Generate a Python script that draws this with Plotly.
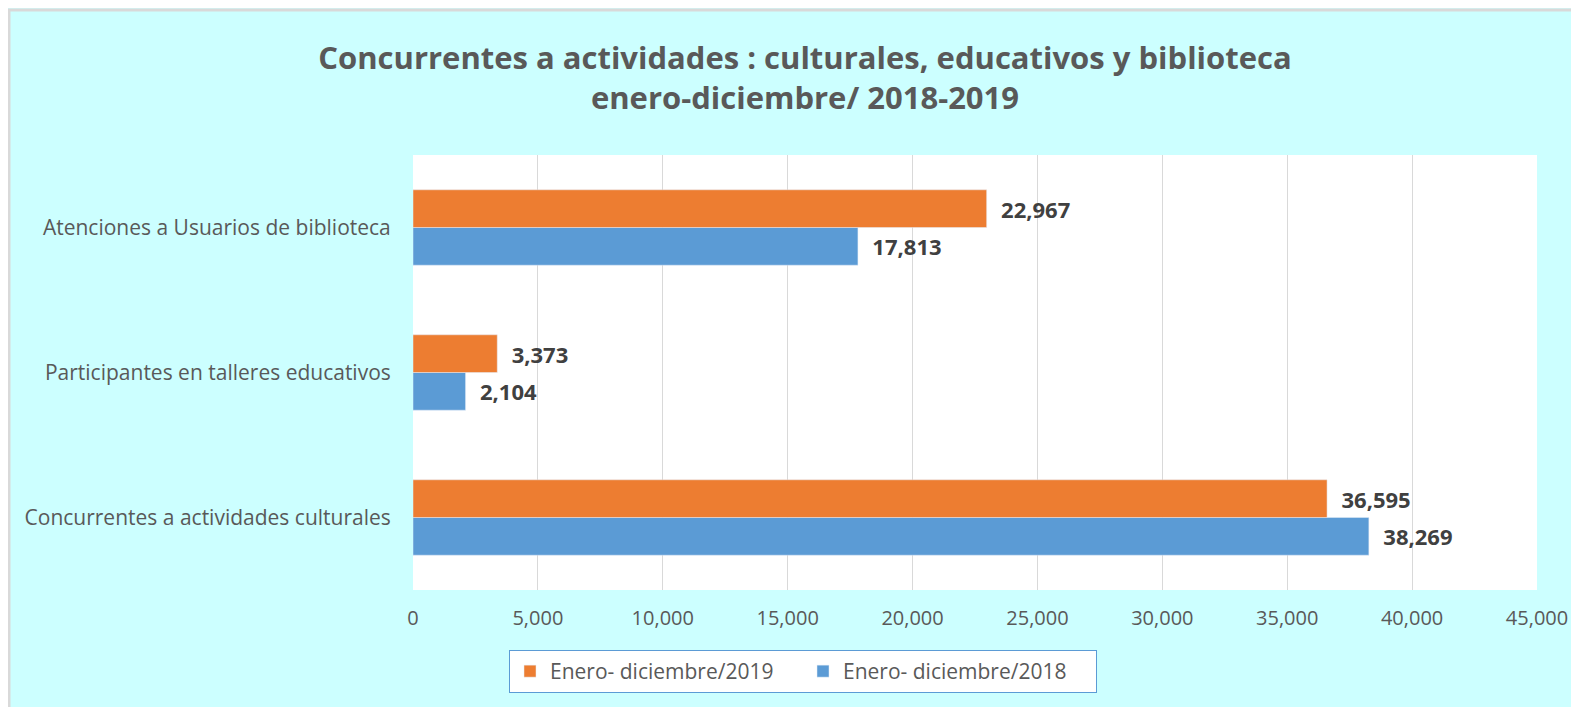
import plotly.graph_objects as go

categories = ["Concurrentes a actividades culturales",
              "Participantes en talleres educativos",
              "Atenciones a Usuarios de biblioteca"]
values_2018 = [38269, 2104, 17813]
values_2019 = [36595, 3373, 22967]
name_2018 = "Enero- diciembre/2018"
name_2019 = "Enero- diciembre/2019"
tick_vals = [0, 5000, 10000, 15000, 20000, 25000, 30000, 35000, 40000, 45000]

# the page body adds an 8px offset; figure coordinates = page coordinates - 8
OFF = 8
W, H = 1579 - OFF, 707 - OFF
ml = 413 - OFF
mt = 155 - OFF
mr = W - (1537 - OFF)
mb = H - (590 - OFF)
pw, ph = W - ml - mr, H - mt - mb

def px_x(p):  # page px -> paper
    return (p - OFF - ml) / pw

def px_y(p):
    return (H - mb - (p - OFF)) / ph

FONT = "Open Sans, Noto Sans, sans-serif"

fig = go.Figure()
label_font = dict(family=FONT, size=22, color="#404040", weight="bold")
fig.add_trace(go.Bar(
    y=categories, x=values_2018, orientation="h", name=name_2018,
    marker=dict(color="#5B9BD5"),
    text=["\u00a0\u00a0" + f"{v:,}" for v in values_2018],
    textposition="outside", textfont=label_font, cliponaxis=False,
))
fig.add_trace(go.Bar(
    y=categories, x=values_2019, orientation="h", name=name_2019,
    marker=dict(color="#ED7D31"),
    text=["\u00a0\u00a0" + f"{v:,}" for v in values_2019],
    textposition="outside", textfont=label_font, cliponaxis=False,
))

shapes = [
    dict(type="line", xref="paper", yref="paper", x0=px_x(8), x1=px_x(1600),
         y0=px_y(10), y1=px_y(10), line=dict(color="#D9D9D9", width=3), layer="below"),
    dict(type="line", xref="paper", yref="paper", x0=px_x(9), x1=px_x(9),
         y0=px_y(10), y1=px_y(720), line=dict(color="#D9D9D9", width=3), layer="below"),
]

fig.update_layout(
    width=W, height=H,
    margin=dict(l=ml, r=mr, t=mt, b=mb),
    paper_bgcolor="#CCFFFF",
    plot_bgcolor="white",
    barmode="group",
    bargap=0.48,
    bargroupgap=0,
    shapes=shapes,
    title=dict(
        text="Concurrentes a actividades : culturales, educativos y biblioteca<br>enero-diciembre/ 2018-2019",
        xref="container", yref="container",
        x=(805 - OFF) / W, xanchor="center", y=1 - (69 - OFF) / H, yanchor="middle",
        font=dict(family=FONT, size=31, color="#595959", weight="bold"),
    ),
    xaxis=dict(
        range=[0, 45000], tickvals=tick_vals, tickformat=",",
        showgrid=True, gridcolor="#D9D9D9", gridwidth=1,
        zeroline=False, showline=False,
        tickfont=dict(family=FONT, size=20, color="#595959"),
        ticks="outside", ticklen=10, tickcolor="rgba(0,0,0,0)",
    ),
    yaxis=dict(
        showgrid=False, zeroline=False, showline=False,
        tickfont=dict(family=FONT, size=21, color="#595959"),
        ticks="outside", ticklen=17, tickcolor="rgba(0,0,0,0)",
    ),
    legend=dict(
        orientation="h", x=px_x(803), xanchor="center", y=px_y(650), yanchor="top",
        traceorder="reversed",
        bgcolor="white", bordercolor="#5B9BD5", borderwidth=1,
        font=dict(family=FONT, size=21, color="#595959"),
        entrywidth=248, itemwidth=30,
    ),
    showlegend=True,
)

fig.write_html("out.html")
